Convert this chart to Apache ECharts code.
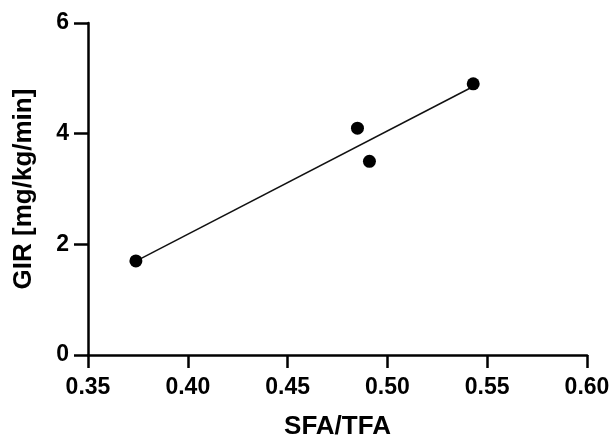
<!DOCTYPE html>
<html><head><meta charset="utf-8">
<script src="https://cdn.jsdelivr.net/npm/echarts@6/dist/echarts.min.js"></script>
<style>html,body{margin:0;padding:0;background:#fff}#c{width:615px;height:440px}</style>
</head><body><div id="c"></div>
<script>
const sfaTfa = [0.374, 0.485, 0.491, 0.543];
const gir = [1.7, 4.1, 3.5, 4.9];
const xTicks = [0.35, 0.40, 0.45, 0.50, 0.55, 0.60];
const yTicks = [0, 2, 4, 6];

// least-squares fit line across data range
const n = sfaTfa.length;
const mx = sfaTfa.reduce((a,b)=>a+b,0)/n, my = gir.reduce((a,b)=>a+b,0)/n;
let sxy=0, sxx=0;
for (let i=0;i<n;i++){ sxy+=(sfaTfa[i]-mx)*(gir[i]-my); sxx+=(sfaTfa[i]-mx)**2; }
const slope = sxy/sxx, icpt = my - slope*mx;
const xmin = Math.min(...sfaTfa), xmax = Math.max(...sfaTfa);
const fit = [[xmin, icpt+slope*xmin],[xmax, icpt+slope*xmax]];

const font = 'Liberation Sans, Arial, sans-serif';
const chart = echarts.init(document.getElementById('c'), null, {renderer:'canvas'});
chart.setOption({
  animation:false,
  grid:{left:88,right:28,top:23,bottom:85,containLabel:false,outerBoundsMode:'none'},
  xAxis:{type:'value',min:xTicks[0],max:xTicks[xTicks.length-1],interval:0.05,
    name:'SFA/TFA',nameLocation:'middle',nameGap:59,
    nameTextStyle:{fontFamily:font,fontWeight:'bold',fontSize:26,color:'#000'},
    axisLine:{show:true,onZero:false,lineStyle:{color:'#000',width:2.5}},
    axisTick:{show:true,length:13,lineStyle:{color:'#000',width:2.5}},
    axisLabel:{margin:21,fontFamily:font,fontWeight:'bold',fontSize:23,color:'#000',
      formatter:v=>v.toFixed(2)},
    splitLine:{show:false}},
  yAxis:{type:'value',min:yTicks[0],max:yTicks[yTicks.length-1],interval:2,
    name:'GIR [mg/kg/min]',nameLocation:'middle',nameGap:51,
    nameTextStyle:{fontFamily:font,fontWeight:'bold',fontSize:26,color:'#000'},
    axisLine:{show:true,onZero:false,lineStyle:{color:'#000',width:2.5}},
    axisTick:{show:true,length:14,lineStyle:{color:'#000',width:2.5}},
    axisLabel:{margin:19,fontFamily:font,fontWeight:'bold',fontSize:23,color:'#000'},
    splitLine:{show:false}},
  series:[
    {type:'line',data:fit,symbol:'none',lineStyle:{color:'#111',width:1.5},z:2},
    {type:'scatter',data:sfaTfa.map((x,i)=>[x,gir[i]]),symbol:'circle',symbolSize:13,
      itemStyle:{color:'#000',opacity:1},z:3}
  ]
});
</script></body></html>
